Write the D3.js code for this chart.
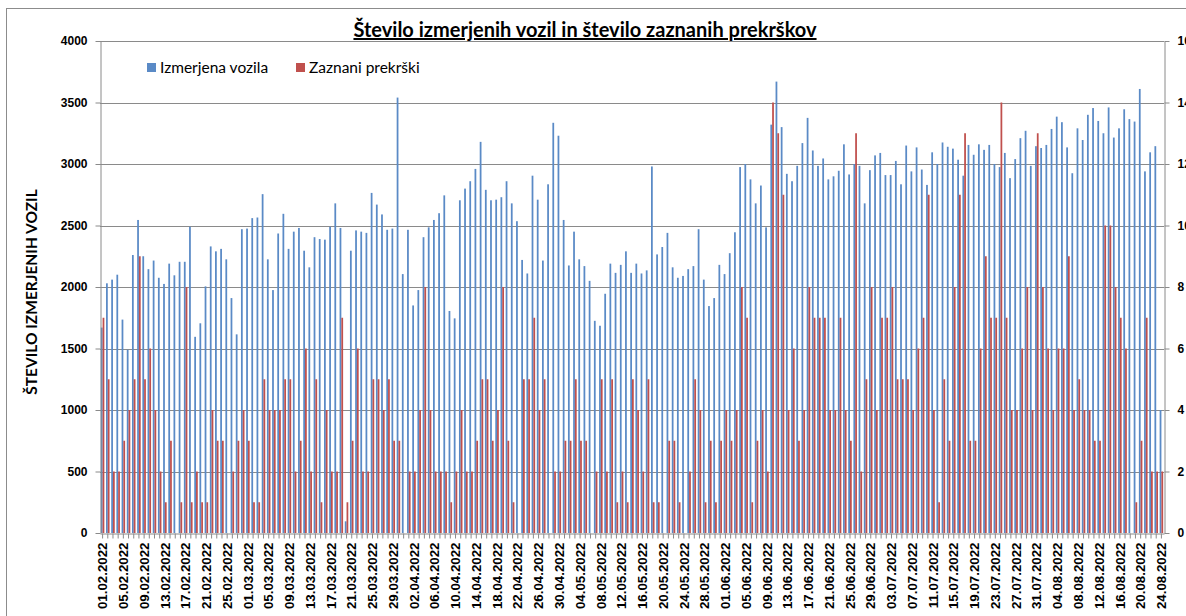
<!DOCTYPE html>
<html><head><meta charset="utf-8">
<script src="https://cdn.jsdelivr.net/npm/d3@7"></script>
<style>
html,body{margin:0;padding:0;background:#fff;}
svg{display:block;font-family:Lato,"Open Sans",sans-serif;}
</style></head>
<body>
<svg id="chart" width="1186" height="616"></svg>
<script>
const startDate = "2022-02-01";
const dayCount = 205;
const izmerjenaVozila = [
1670,2030,2060,2100,1735,1490,2260,2545,2250,2145,2215,2075,2025,2190,2095,2205,2205,2490,1595,1705,
2005,2330,2290,2310,2225,1910,1615,2470,2475,2560,2565,2755,2225,1975,2435,2595,2310,2450,2480,2295,
2160,2405,2390,2385,2490,2680,2480,95,2295,2460,2450,2440,2765,2670,2590,2465,2475,3540,2105,2465,
1850,1975,2405,2485,2545,2600,2745,1805,1745,2705,2800,2860,2960,3180,2790,2705,2710,2730,2860,2680,
2535,2220,2110,2905,2710,2215,2835,3335,3230,2545,2175,2450,2225,2170,2050,1725,1685,1945,2190,2115,
2180,2290,2115,2190,2110,2135,2980,2265,2325,2440,2160,2075,2090,2145,2170,2470,2060,1845,1910,2180,
2105,2275,2445,2975,3000,2875,2680,2825,2485,3320,3670,3300,2920,2860,2985,3170,3375,3110,2985,3045,
2875,2900,2945,3160,2915,3000,2985,2680,2950,3070,3090,2910,2910,3025,2835,3150,2940,3135,2955,2830,
3095,3000,3175,3140,3125,3035,2905,3155,3075,3160,3115,3155,3000,2975,3090,2885,3040,3210,3270,2985,
3145,3130,3155,3285,3385,3340,3135,2925,3290,3195,3400,3455,3350,3250,3460,3215,3290,3445,3365,3345,
3610,2940,3095,3145,1000];
const zaznaniPrekrski = [
7,5,2,2,3,4,5,9,5,6,4,2,1,3,0,1,8,1,2,1,
1,4,3,3,0,2,3,4,3,1,1,5,4,4,4,5,5,2,3,6,
2,5,1,4,2,2,7,1,3,6,2,2,5,5,4,5,3,3,0,2,
2,4,8,4,2,2,2,1,2,4,2,2,3,5,5,3,4,8,3,1,
0,5,5,7,4,5,0,2,2,3,3,5,3,3,0,2,5,2,5,1,
2,1,5,4,2,5,1,1,0,3,3,1,0,2,5,4,1,3,1,3,
4,3,4,8,7,1,3,4,2,14,13,11,4,6,3,4,8,7,7,7,
4,4,7,4,3,13,2,5,8,4,7,7,8,5,5,5,4,6,7,11,
4,1,5,3,8,11,13,3,3,6,9,7,7,14,7,4,4,6,8,4,
13,8,6,4,6,6,9,4,5,4,4,3,3,10,10,8,7,6,0,1,
3,7,2,2,2];
const leftTicks = [0,500,1000,1500,2000,2500,3000,3500,4000];
const rightTicks = [0,2,4,6,8,10,12,14,16];
const seriesNames = ["Izmerjena vozila","Zaznani prekrški"];
const titleText = "Število izmerjenih vozil in število zaznanih prekrškov";
const yTitle = "ŠTEVILO IZMERJENIH VOZIL";

const fmt = d3.timeFormat("%d.%m.%Y");
const d0 = new Date(startDate + "T00:00:00");
const dates = d3.range(dayCount).map(i => fmt(d3.timeDay.offset(d0, i)));

const svg = d3.select("#chart");
const L = 100, R = 1164, T = 41, B = 533;
const blue = "#5a8ac6", red = "#c0504d", grid = "#8a8a8a";

// border
svg.append("rect").attr("x",6.5).attr("y",8.5).attr("width",1200).attr("height",620)
  .attr("fill","none").attr("stroke","#8c8c8c");

const x = d3.scaleBand().domain(dates).range([L,R]).paddingInner(0.32).paddingOuter(0.16);
const x1 = d3.scaleBand().domain(["v","p"]).range([0,x.bandwidth()]).padding(0);
const yL = d3.scaleLinear().domain([0,4000]).range([B,T]);
const yR = d3.scaleLinear().domain([0,16]).range([B,T]);

// gridlines
svg.append("g").selectAll("line").data(leftTicks.filter(d=>d>0)).join("line")
  .attr("x1",L).attr("x2",R).attr("y1",d=>Math.round(yL(d))+0.5).attr("y2",d=>Math.round(yL(d))+0.5)
  .attr("stroke",grid).attr("stroke-width",1);

// bars
const bars = svg.append("g");
bars.selectAll("rect.v").data(izmerjenaVozila).join("rect").attr("class","v")
  .attr("x",(d,i)=>x(dates[i])+x1("v")).attr("width",x1.bandwidth())
  .attr("y",d=>yL(d)).attr("height",d=>B-yL(d)).attr("fill",blue);
bars.selectAll("rect.p").data(zaznaniPrekrski).join("rect").attr("class","p")
  .attr("x",(d,i)=>x(dates[i])+x1("p")).attr("width",x1.bandwidth())
  .attr("y",d=>yR(d)).attr("height",d=>B-yR(d)).attr("fill",red);

// left axis
const gL = svg.append("g").attr("transform",`translate(${L+0.5},0)`)
  .call(d3.axisLeft(yL).tickValues(leftTicks).tickFormat(d3.format("d")).tickSize(5).tickPadding(8).tickSizeOuter(0));
gL.select(".domain").attr("stroke",grid);
gL.selectAll(".tick line").attr("stroke",grid);
gL.selectAll("text").attr("font-size","12px").attr("font-weight","bold").attr("fill","#000");

// right axis
const gR = svg.append("g").attr("transform",`translate(${R+0.5},0)`)
  .call(d3.axisRight(yR).tickValues(rightTicks).tickSize(5).tickPadding(8).tickSizeOuter(0));
gR.select(".domain").attr("stroke",grid);
gR.selectAll(".tick line").attr("stroke",grid);
gR.selectAll("text").attr("font-size","12px").attr("font-weight","bold").attr("fill","#000");

// bottom axis
const gB = svg.append("g").attr("transform",`translate(0,${B+0.5})`)
  .call(d3.axisBottom(x).tickSize(5).tickSizeOuter(0)
    .tickFormat((d,i)=> i%4===0 ? d : ""));
gB.select(".domain").attr("stroke",grid);
gB.selectAll(".tick line").attr("stroke",grid);
gB.selectAll("text").attr("font-size","13.3px").attr("font-weight","bold").attr("fill","#000")
  .attr("y",0).attr("x",-9).attr("dy","0.35em").attr("transform","rotate(-90)")
  .style("text-anchor","end");

// title
svg.append("text").attr("x",585).attr("y",37).attr("text-anchor","middle")
  .attr("font-size","20px").attr("font-weight","bold").attr("text-decoration","underline")
  .text(titleText);

// y title
svg.append("text").attr("transform","translate(37,292) rotate(-90)").attr("text-anchor","middle")
  .attr("font-size","15.5px").attr("font-weight","bold").text(yTitle);

// legend
const leg = svg.append("g").attr("transform","translate(147,68)");
const legX = [0,149];
seriesNames.forEach((n,i)=>{
  leg.append("rect").attr("x",legX[i]).attr("y",-5).attr("width",9).attr("height",9)
    .attr("fill", i===0?blue:red);
  leg.append("text").attr("x",legX[i]+13).attr("y",0).attr("dy","0.35em")
    .attr("font-size","15.5px").text(n);
});
</script>
</body></html>
